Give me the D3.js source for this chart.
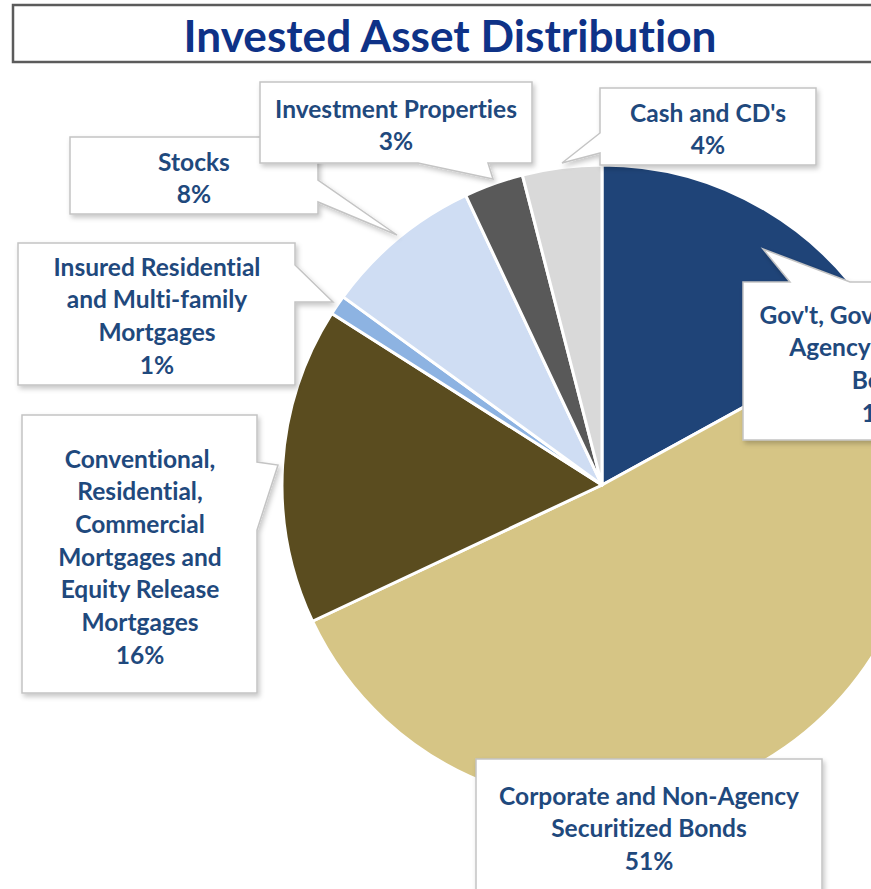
<!DOCTYPE html>
<html>
<head>
<meta charset="utf-8">
<script src="https://cdn.jsdelivr.net/npm/d3@7"></script>
<style>
  html, body { margin: 0; padding: 0; background: #fff; overflow: hidden; }
  svg { display: block; }
  text { font-variant-ligatures: none; font-feature-settings: "liga" 0, "clig" 0; }
</style>
</head>
<body>
<svg id="chart" width="871" height="889"></svg>
<script>
// ---- data ----
const title = "Invested Asset Distribution";
const categories = [
  "Gov't, Government and Agency Securities Bonds",
  "Corporate and Non-Agency Securitized Bonds",
  "Conventional, Residential, Commercial Mortgages and Equity Release Mortgages",
  "Insured Residential and Multi-family Mortgages",
  "Stocks",
  "Investment Properties",
  "Cash and CD's"
];
const values = [17, 51, 16, 1, 8, 3, 4];
const labelLines = [
  ["Gov't, Government and", "Agency Securities", "Bonds"],
  ["Corporate and Non-Agency", "Securitized Bonds"],
  ["Conventional,", "Residential,", "Commercial", "Mortgages and", "Equity Release", "Mortgages"],
  ["Insured Residential", "and Multi-family", "Mortgages"],
  ["Stocks"],
  ["Investment Properties"],
  ["Cash and CD's"]
];
const colors = ["#1F4478", "#D6C585", "#5A4C1F", "#8DB3E2", "#CFDDF3", "#595959", "#D9D9D9"];

// ---- layout ----
const svg = d3.select("#chart");
const FONT = "Lato, 'Open Sans', sans-serif";
const textColor = "#1F497D";
const cx = 602, cy = 485, R = 320;

const defs = svg.append("defs");
const f = defs.append("filter").attr("id", "shadow").attr("x", "-10%").attr("y", "-10%").attr("width", "130%").attr("height", "130%");
f.append("feDropShadow").attr("dx", 2).attr("dy", 3).attr("stdDeviation", 2.5)
  .attr("flood-color", "#000").attr("flood-opacity", 0.22);

// Title box
svg.append("rect").attr("x", 13).attr("y", 5).attr("width", 880).attr("height", 57)
  .attr("fill", "#fff").attr("stroke", "#5B5B5B").attr("stroke-width", 2.5);
const titleText = svg.append("text").text(title)
  .attr("x", 450).attr("y", 34).attr("text-anchor", "middle").attr("dominant-baseline", "central")
  .attr("font-family", FONT).attr("font-weight", 700).attr("fill", "#0E3287").attr("font-size", 44);
{
  const w = titleText.node().getComputedTextLength();
  titleText.attr("font-size", 44 * 533 / w);
}

// Pie
const pie = d3.pie().sort(null).value(d => d)(values);
const arc = d3.arc().innerRadius(0).outerRadius(R);
svg.append("g").attr("transform", `translate(${cx},${cy})`)
  .selectAll("path").data(pie).join("path")
  .attr("d", arc)
  .attr("fill", (d, i) => colors[i])
  .attr("stroke", "#fff").attr("stroke-width", 3).attr("stroke-linejoin", "round");

// measure label font size: fit "Corporate and Non-Agency" into 300px
const probe = svg.append("text").text(labelLines[1][0])
  .attr("font-family", FONT).attr("font-weight", 700).attr("font-size", 22);
const labelSize = 22 * 300 / probe.node().getComputedTextLength();
probe.remove();

// Callout boxes (index into data, box geometry, pointer)
const boxes = [
  { i: 0, x: 743, y: 282, w: 300, h: 158, tcx: 886, ty: 314,
    ptr: { side: "top", a: 790, b: 850, tip: [763, 249] } },
  { i: 1, x: 476, y: 759, w: 346, h: 160, tcx: 649, ty: 795 },
  { i: 2, x: 22, y: 415, w: 235, h: 278, tcx: 140, ty: 458,
    ptr: { side: "right", a: 462, b: 530, tip: [278, 465] } },
  { i: 3, x: 18, y: 243, w: 277, h: 142, tcx: 157, ty: 266,
    ptr: { side: "right", a: 265, b: 302, tip: [333, 302] } },
  { i: 4, x: 70, y: 137, w: 248, h: 77, tcx: 194, ty: 161,
    ptr: { side: "right", a: 180, b: 202, tip: [397, 235] } },
  { i: 5, x: 260, y: 82, w: 272, h: 81, tcx: 396, ty: 108,
    ptr: { side: "bottom", a: 418, b: 488, tip: [493, 179] } },
  { i: 6, x: 600, y: 88, w: 216, h: 77, tcx: 708, ty: 112,
    ptr: { side: "left", a: 133, b: 153, tip: [562, 163] } }
];

function calloutPath(b) {
  const { x, y, w, h, ptr } = b;
  const p = d3.path();
  p.moveTo(x, y);
  if (ptr && ptr.side === "top") { p.lineTo(ptr.a, y); p.lineTo(...ptr.tip); p.lineTo(ptr.b, y); }
  p.lineTo(x + w, y);
  if (ptr && ptr.side === "right") { p.lineTo(x + w, ptr.a); p.lineTo(...ptr.tip); p.lineTo(x + w, ptr.b); }
  p.lineTo(x + w, y + h);
  if (ptr && ptr.side === "bottom") { p.lineTo(ptr.b, y + h); p.lineTo(...ptr.tip); p.lineTo(ptr.a, y + h); }
  p.lineTo(x, y + h);
  if (ptr && ptr.side === "left") { p.lineTo(x, ptr.b); p.lineTo(...ptr.tip); p.lineTo(x, ptr.a); }
  p.closePath();
  return p.toString();
}

const lineH = 32.7;
boxes.forEach(b => {
  const g = svg.append("g");
  g.append("path").attr("d", calloutPath(b))
    .attr("fill", "#fff").attr("stroke", "#C4C4C4").attr("stroke-width", 1.5)
    .attr("filter", "url(#shadow)");
  const lines = labelLines[b.i].concat([values[b.i] + "%"]);
  const t = g.append("text")
    .attr("font-family", FONT).attr("font-weight", 700).attr("font-size", labelSize)
    .attr("fill", textColor).attr("text-anchor", "middle");
  t.selectAll("tspan").data(lines).join("tspan")
    .attr("x", b.tcx)
    .attr("y", (d, k) => b.ty + k * lineH)
    .attr("dominant-baseline", "central")
    .text(d => d);
});
</script>
</body>
</html>
